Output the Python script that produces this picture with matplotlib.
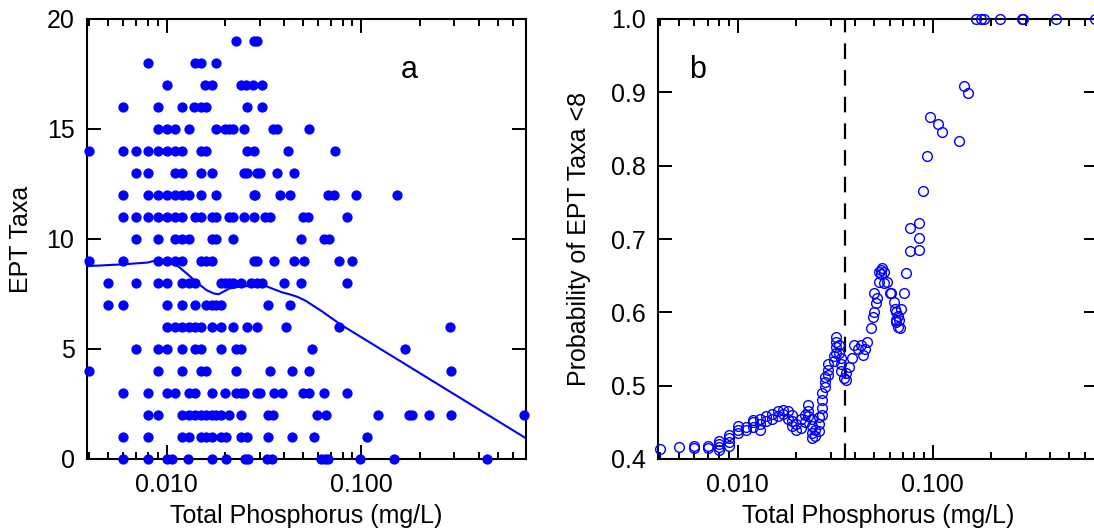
import matplotlib
matplotlib.use('Agg')
import matplotlib.pyplot as plt
from matplotlib.ticker import LogLocator, FixedLocator, FuncFormatter, NullFormatter
import numpy as np

plt.rcParams['font.family'] = ['Liberation Sans', 'DejaVu Sans']

# ---------------- Panel a data: Total phosphorus (mg/L) per EPT taxa count ----------------
ept_levels = [19, 18, 17, 16, 15, 14, 13, 12, 11, 10, 9, 8, 7, 6, 5, 4, 3, 2, 1, 0]
tp_rows = [
    [0.0228, 0.028, 0.029],
    [0.008, 0.014, 0.015, 0.018],
    [0.010, 0.0157, 0.017, 0.024, 0.0256, 0.0278, 0.031],
    [0.006, 0.009, 0.012, 0.0139, 0.015, 0.016, 0.026, 0.031],
    [0.009, 0.010, 0.011, 0.013, 0.018, 0.020, 0.021, 0.022, 0.025, 0.035, 0.037, 0.054],
    [0.004, 0.006, 0.007, 0.008, 0.009, 0.010, 0.011, 0.012, 0.015, 0.016, 0.026, 0.028, 0.042, 0.073],
    [0.007, 0.008, 0.011, 0.012, 0.015, 0.017, 0.025, 0.026, 0.029, 0.030, 0.037, 0.045],
    [0.006, 0.008, 0.009, 0.010, 0.011, 0.012, 0.013, 0.015, 0.018, 0.028, 0.0285, 0.038, 0.043,
     0.067, 0.072, 0.094, 0.152],
    [0.006, 0.007, 0.008, 0.009, 0.010, 0.011, 0.012, 0.014, 0.015, 0.017, 0.018, 0.021, 0.022,
     0.025, 0.028, 0.032, 0.034, 0.050, 0.053, 0.084],
    [0.007, 0.009, 0.011, 0.012, 0.013, 0.017, 0.018, 0.022, 0.049, 0.064, 0.068],
    [0.004, 0.006, 0.009, 0.010, 0.011, 0.012, 0.015, 0.016, 0.017, 0.028, 0.029, 0.0355, 0.045,
     0.051, 0.0765, 0.090],
    [0.005, 0.007, 0.009, 0.010, 0.012, 0.013, 0.014, 0.019, 0.020, 0.021, 0.022, 0.024, 0.027,
     0.029, 0.031, 0.040, 0.049, 0.084],
    [0.005, 0.006, 0.010, 0.012, 0.014, 0.016, 0.017, 0.018, 0.019, 0.033, 0.043],
    [0.010, 0.011, 0.012, 0.013, 0.014, 0.015, 0.017, 0.019, 0.022, 0.026, 0.029, 0.041, 0.0765, 0.285],
    [0.007, 0.009, 0.010, 0.012, 0.014, 0.015, 0.019, 0.0226, 0.024, 0.056, 0.168],
    [0.004, 0.009, 0.012, 0.015, 0.016, 0.0226, 0.034, 0.044, 0.054, 0.29],
    [0.006, 0.008, 0.010, 0.011, 0.013, 0.014, 0.017, 0.020, 0.0226, 0.024, 0.025, 0.029, 0.030,
     0.0355, 0.039, 0.050, 0.054, 0.064, 0.084],
    [0.008, 0.009, 0.012, 0.013, 0.014, 0.015, 0.016, 0.017, 0.018, 0.019, 0.021, 0.024, 0.033,
     0.035, 0.059, 0.066, 0.121, 0.175, 0.182, 0.223, 0.29, 0.68],
    [0.006, 0.008, 0.012, 0.013, 0.015, 0.016, 0.017, 0.019, 0.0202, 0.024, 0.026, 0.033, 0.044,
     0.057, 0.107],
    [0.006, 0.008, 0.010, 0.0107, 0.0129, 0.0171, 0.0201, 0.0254, 0.0261, 0.0327, 0.0347, 0.0617,
     0.0649, 0.0671, 0.0982, 0.1475, 0.4433],
]

# smooth (lowess) curve of panel a
smooth_tp = [0.004, 0.006, 0.008, 0.0088, 0.0095, 0.0105, 0.0115, 0.013, 0.0145, 0.016,
             0.0175, 0.0185, 0.0195, 0.021, 0.024, 0.028, 0.0315, 0.035, 0.039, 0.043,
             0.047, 0.052, 0.057, 0.063, 0.0722, 0.078, 0.70]
smooth_ept = [8.77, 8.85, 8.93, 9.03, 9.0, 8.9, 8.75, 8.35, 7.98, 7.68,
              7.52, 7.49, 7.6, 7.75, 7.84, 7.88, 7.9, 7.74, 7.58, 7.48,
              7.37, 7.18, 6.95, 6.7, 6.33, 6.12, 0.94]

# ---------------- Panel b data: probability of EPT taxa < 8 ----------------
tp_b = [0.004, 0.005, 0.006, 0.006, 0.007, 0.007, 0.008, 0.008, 0.008, 0.008,
        0.009, 0.009, 0.009, 0.009, 0.010, 0.010, 0.010, 0.011, 0.011,
        0.012, 0.012, 0.012, 0.013, 0.013, 0.013, 0.014, 0.014, 0.015, 0.015,
        0.016, 0.016, 0.017, 0.017, 0.018, 0.018, 0.019, 0.019, 0.019, 0.020, 0.020,
        0.021, 0.021, 0.022, 0.022, 0.023, 0.023, 0.023, 0.024, 0.024, 0.024, 0.024,
        0.025, 0.025, 0.026, 0.026, 0.026, 0.027, 0.027, 0.027, 0.027,
        0.028, 0.028, 0.028, 0.029, 0.029, 0.029, 0.031, 0.031,
        0.032, 0.032, 0.032, 0.032, 0.033, 0.033, 0.034, 0.034, 0.034,
        0.035, 0.036, 0.036, 0.037, 0.0385, 0.0395, 0.0415, 0.043, 0.044, 0.045, 0.046,
        0.048, 0.0495, 0.050, 0.051, 0.050, 0.052, 0.053, 0.053, 0.054, 0.054, 0.055, 0.056,
        0.056, 0.058, 0.060, 0.061, 0.063, 0.064, 0.0645, 0.065, 0.066, 0.066, 0.067, 0.068,
        0.065, 0.0685, 0.0715, 0.073, 0.0767, 0.0767, 0.0845, 0.0845, 0.0845, 0.0894,
        0.093, 0.0967, 0.106, 0.112, 0.137, 0.144, 0.151,
        0.166, 0.176, 0.183, 0.22, 0.287, 0.29, 0.429, 0.68]
p_b = [0.414, 0.417, 0.415, 0.418, 0.415, 0.418, 0.412, 0.416, 0.420, 0.425,
       0.418, 0.423, 0.428, 0.433, 0.436, 0.440, 0.445, 0.440, 0.444,
       0.444, 0.450, 0.453, 0.440, 0.448, 0.455, 0.452, 0.458, 0.455, 0.462,
       0.458, 0.465, 0.462, 0.467, 0.455, 0.465, 0.445, 0.452, 0.460, 0.440, 0.448,
       0.442, 0.455, 0.450, 0.460, 0.458, 0.466, 0.474, 0.428, 0.436, 0.445, 0.455,
       0.432, 0.440, 0.438, 0.448, 0.457, 0.460, 0.470, 0.480, 0.490,
       0.498, 0.505, 0.512, 0.515, 0.522, 0.530, 0.533, 0.540,
       0.545, 0.553, 0.560, 0.566, 0.555, 0.545, 0.520, 0.530, 0.538,
       0.510, 0.508, 0.517, 0.525, 0.538, 0.555, 0.550, 0.555, 0.542, 0.550, 0.560,
       0.578, 0.594, 0.600, 0.613, 0.626, 0.620, 0.642, 0.655, 0.652, 0.658, 0.660, 0.655,
       0.640, 0.642, 0.626, 0.626, 0.614, 0.605, 0.590, 0.600, 0.595, 0.580, 0.590, 0.578,
       0.587, 0.605, 0.626, 0.653, 0.683, 0.7146, 0.685, 0.701, 0.722, 0.7655,
       0.813, 0.8668, 0.857, 0.846, 0.833, 0.9086, 0.8995,
       1.0, 1.0, 1.0, 1.0, 1.0, 1.0, 1.0, 1.0]

threshold_tp = 0.0356

x_major = [0.01, 0.1]
ya_ticks = [0, 5, 10, 15, 20]
yb_ticks = [0.4, 0.5, 0.6, 0.7, 0.8, 0.9, 1.0]

W, H = 1094, 528
fig = plt.figure(figsize=(W / 100, H / 100), dpi=100)
axa = fig.add_axes([87 / W, 69 / H, 439 / W, 440 / H])
axb = fig.add_axes([658 / W, 69 / H, 439.6 / W, 440 / H])

FS = 18


def style(ax):
    ax.set_xscale('log')
    ax.set_xlim(0.0039, 0.70)
    ax.xaxis.set_major_locator(FixedLocator(x_major))
    ax.xaxis.set_minor_locator(LogLocator(base=10, subs=np.arange(2, 10)))
    ax.xaxis.set_major_formatter(FuncFormatter(lambda v, p: f'{v:.3f}'))
    ax.xaxis.set_minor_formatter(NullFormatter())
    ax.tick_params(which='both', direction='in', top=True, right=True,
                   width=1.4, labelsize=FS, color='black')
    ax.tick_params(which='major', length=10)
    ax.tick_params(which='minor', length=5)
    ax.tick_params(axis='x', pad=10)
    ax.tick_params(axis='y', pad=9)
    for s in ax.spines.values():
        s.set_linewidth(1.5)
    ax.set_xlabel('Total Phosphorus (mg/L)', fontsize=FS, labelpad=5)


# Panel a
style(axa)
for lvl, row in zip(ept_levels, tp_rows):
    axa.plot(row, [lvl] * len(row), 'o', color='#0000ff', markersize=7.4,
             markeredgewidth=0, clip_on=False, zorder=3)
axa.plot(smooth_tp, smooth_ept, '-', color='#0000ff', lw=1.5, zorder=2)
axa.set_ylim(0, 20)
axa.yaxis.set_major_locator(FixedLocator(ya_ticks))
axa.set_ylabel('EPT Taxa', fontsize=FS, labelpad=10)
axa.text(0.733, 0.884, 'a', transform=axa.transAxes, fontsize=22,
         ha='center', va='center')

# Panel b
style(axb)
axb.plot(tp_b, p_b, 'o', markerfacecolor='none', markeredgecolor='#0000ff',
         markersize=7.0, markeredgewidth=1.0, clip_on=False, zorder=3)
axb.axvline(threshold_tp, color='black', lw=1.6, ls=(0, (7, 5)), zorder=2)
axb.set_ylim(0.4, 1.0)
axb.yaxis.set_major_locator(FixedLocator(yb_ticks))
axb.yaxis.set_major_formatter(FuncFormatter(lambda v, p: f'{v:.1f}'))
axb.set_ylabel('Probability of EPT Taxa <8', fontsize=FS, labelpad=14)
axb.text(0.089, 0.884, 'b', transform=axb.transAxes, fontsize=22,
         ha='center', va='center')

fig.savefig('out.png', dpi=100)
